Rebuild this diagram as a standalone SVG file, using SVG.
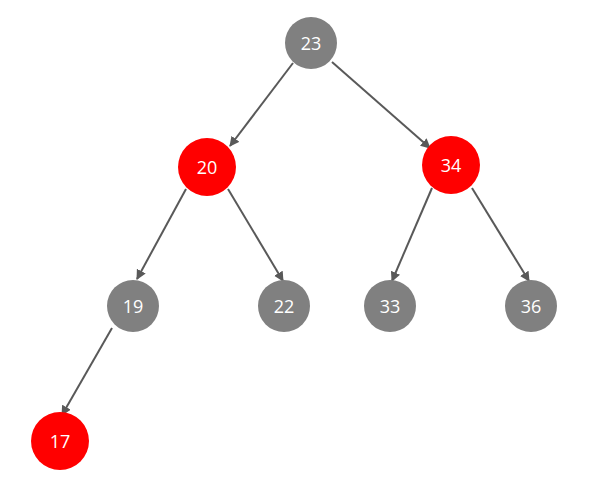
<svg xmlns="http://www.w3.org/2000/svg" width="613" height="486" viewBox="0 0 613 486">
<style>
.g{fill:#808080}.r{fill:#ff0000}
text{font-family:"Open Sans","Liberation Sans",sans-serif;font-size:18px;fill:#fff;text-anchor:middle;dominant-baseline:central}
.e{stroke:#595959;stroke-width:2;fill:none;marker-end:url(#a)}
</style>
<defs><marker id="a" viewBox="0 0 10 10" refX="9" refY="5" markerWidth="5" markerHeight="5" orient="auto"><path d="M0,0L10,5L0,10z" fill="#595959"/></marker></defs>
<rect width="613" height="486" fill="#fff"/>
<g id="connectors">
<line class="e" x1="293" y1="63" x2="230" y2="146"/>
<line class="e" x1="332" y1="62" x2="430" y2="148"/>
<line class="e" x1="186" y1="189" x2="137" y2="279"/>
<line class="e" x1="228" y1="189" x2="283" y2="281"/>
<line class="e" x1="432" y1="188" x2="392" y2="281"/>
<line class="e" x1="472" y1="188" x2="529" y2="281"/>
<line class="e" x1="112" y1="328" x2="62" y2="415"/>
</g>
<g id="n23"><circle class="g" cx="311" cy="43" r="26"/><text x="311" y="43">23</text></g>
<g id="n20"><circle class="r" cx="207" cy="167" r="29"/><text x="207" y="167">20</text></g>
<g id="n34"><circle class="r" cx="451" cy="165" r="29"/><text x="451" y="165">34</text></g>
<g id="n19"><circle class="g" cx="133" cy="306" r="26"/><text x="133" y="306">19</text></g>
<g id="n22"><circle class="g" cx="284" cy="306" r="26"/><text x="284" y="306">22</text></g>
<g id="n33"><circle class="g" cx="390" cy="306" r="26"/><text x="390" y="306">33</text></g>
<g id="n36"><circle class="g" cx="531" cy="306" r="26"/><text x="531" y="306">36</text></g>
<g id="n17"><circle class="r" cx="60" cy="441" r="29"/><text x="60" y="441">17</text></g>
</svg>
